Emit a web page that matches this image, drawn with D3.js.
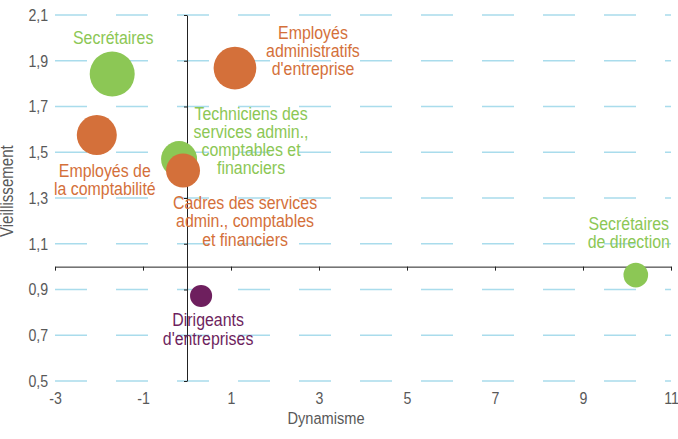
<!DOCTYPE html>
<html>
<head>
<meta charset="utf-8">
<script src="https://cdn.jsdelivr.net/npm/d3@7"></script>
<style>
  body { margin: 0; background: #fff; }
  svg text { font-family: "Liberation Sans", Arial, sans-serif; }
</style>
</head>
<body>
<div id="chart"></div>
<script>
// data
var metiers = ["Secrétaires", "Employés administratifs d'entreprise", "Employés de la comptabilité",
  "Techniciens des services admin., comptables et financiers",
  "Cadres des services admin., comptables et financiers",
  "Dirigeants d'entreprises", "Secrétaires de direction"];
var dynamisme = [-1.7, 1.09, -2.05, -0.18, -0.09, 0.32, 10.2];
var vieillissement = [1.842, 1.868, 1.575, 1.47, 1.42, 0.872, 0.963];
var effectifs = [100, 90, 79, 64, 57, 24, 30];
var groupe = ["vert", "orange", "orange", "vert", "orange", "violet", "vert"];
var xTicks = [-3, -1, 1, 3, 5, 7, 9, 11];
var yTicks = [0.5, 0.7, 0.9, 1.1, 1.3, 1.5, 1.7, 1.9, 2.1];

// label layout (lines + offset from the bubble centre)
var labelLines = [
  ["Secrétaires"],
  ["Employés", "administratifs", "d'entreprise"],
  ["Employés de", "la comptabilité"],
  ["Techniciens des", "services admin.,", "comptables et", "financiers"],
  ["Cadres des services", "admin., comptables", "et financiers"],
  ["Dirigeants", "d'entreprises"],
  ["Secrétaires", "de direction"]
];
var labelOffset = [[1, -37], [78, -36], [8, 35], [72, -46], [62, 32], [7, 24], [-7, -52]];

var colors = { vert: "#8cc755", orange: "#d4703a", violet: "#6e1f5e" };
var narrow = 0.86; // the original font is a condensed one

var W = 678, H = 439;
var margin = {top: 15, right: 7, bottom: 58, left: 55};
var width = W - margin.left - margin.right,
    height = H - margin.top - margin.bottom;

var x = d3.scaleLinear().domain([-3, 11]).range([0, width]);
var y = d3.scaleLinear().domain([0.5, 2.1]).range([height, 0]);
var r = d3.scaleSqrt().domain([0, 100]).range([0, 22.5]);

var svg = d3.select("#chart").append("svg")
    .attr("width", W)
    .attr("height", H)
  .append("g")
    .attr("transform", "translate(" + margin.left + "," + margin.top + ")");

// dashed grid
svg.append("g")
    .selectAll("line")
    .data(yTicks)
    .join("line")
    .attr("x1", 0).attr("x2", width)
    .attr("y1", function(d) { return y(d); })
    .attr("y2", function(d) { return y(d); })
    .attr("stroke", "#a9dcec")
    .attr("stroke-width", 1.5)
    .attr("stroke-dasharray", "32,29");

// y tick labels on the left
svg.append("g")
    .attr("class", "axis axis--y")
    .call(d3.axisLeft(y).tickValues(yTicks).tickSize(0).tickPadding(8)
      .tickFormat(function(d) { return d3.format(".1f")(d).replace(".", ","); }))
    .call(function(g) { g.select(".domain").remove(); })
    .selectAll("text")
    .attr("font-size", 16.5)
    .attr("fill", "#595959")
    .attr("transform", "scale(" + narrow + ",1)");

// x tick labels at the bottom
svg.append("g")
    .attr("class", "axis axis--x")
    .attr("transform", "translate(0," + height + ")")
    .call(d3.axisBottom(x).tickValues(xTicks).tickSize(0).tickPadding(11)
      .tickFormat(function(d) { return String(d); }))
    .call(function(g) { g.select(".domain").remove(); })
    .selectAll("text")
    .attr("font-size", 16.5)
    .attr("fill", "#595959")
    .attr("transform", "scale(" + narrow + ",1)");

// crossing axes at (0, 1)
var vAxis = svg.append("g")
    .attr("transform", "translate(" + x(0) + ",0)")
    .call(d3.axisLeft(y).tickValues(yTicks).tickSize(3).tickSizeOuter(0).tickFormat(""));
var hAxis = svg.append("g")
    .attr("transform", "translate(0," + y(1) + ")")
    .call(d3.axisBottom(x).tickValues(xTicks).tickSize(4).tickSizeOuter(0).tickFormat(""));
[vAxis, hAxis].forEach(function(g) {
  g.selectAll("path, line").attr("stroke", "#222");
});

// bubbles
var idx = d3.range(metiers.length);
svg.append("g")
    .selectAll("circle")
    .data(idx)
    .join("circle")
    .attr("cx", function(i) { return x(dynamisme[i]); })
    .attr("cy", function(i) { return y(vieillissement[i]); })
    .attr("r", function(i) { return r(effectifs[i]); })
    .attr("fill", function(i) { return colors[groupe[i]]; });

// labels
var lh = 18.3;
var labels = svg.append("g")
    .selectAll("text")
    .data(idx)
    .join("text")
    .attr("text-anchor", "middle")
    .attr("font-size", 18.5)
    .attr("fill", function(i) { return colors[groupe[i]]; })
    .attr("transform", function(i) {
      return "translate(" + (x(dynamisme[i]) + labelOffset[i][0]) + "," +
        (y(vieillissement[i]) + labelOffset[i][1]) + ") scale(" + narrow + ",1)";
    });
labels.selectAll("tspan")
    .data(function(i) { return labelLines[i]; })
    .join("tspan")
    .attr("x", 0)
    .attr("y", function(d, j) { return j * lh; })
    .attr("dy", "0.35em")
    .text(function(d) { return d; });

// axis titles
svg.append("text")
    .attr("transform", "translate(" + (width / 2 - 37) + "," + (height + 43) + ") scale(" + narrow + ",1)")
    .attr("text-anchor", "middle")
    .attr("font-size", 17)
    .attr("fill", "#595959")
    .text("Dynamisme");

svg.append("text")
    .attr("transform", "translate(" + (-42) + "," + (y(1.33)) + ") rotate(-90) scale(" + narrow + ",1)")
    .attr("text-anchor", "middle")
    .attr("font-size", 17.5)
    .attr("fill", "#595959")
    .text("Vieillissement");
</script>
</body>
</html>
